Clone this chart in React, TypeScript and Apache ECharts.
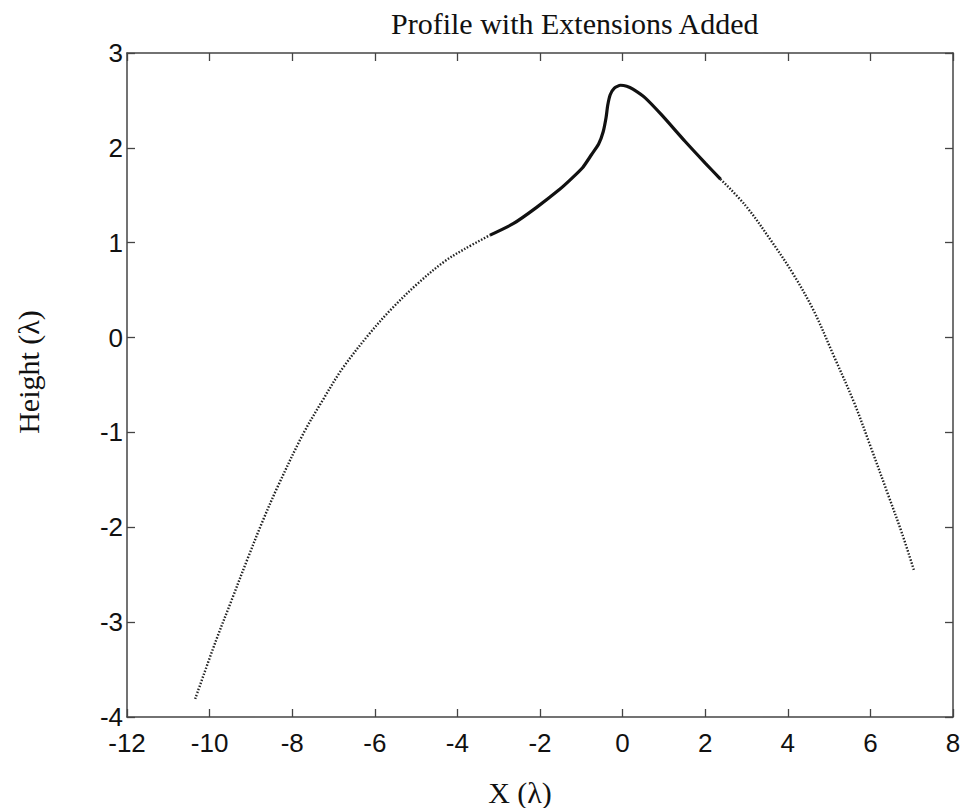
import React, { useEffect, useRef } from "react";
import * as echarts from "echarts";

// Left extension (dotted)
const leftExtX = [-10.35, -9.85, -9.46, -9.07, -8.72, -8.36, -7.74, -7.26, -6.79, -6.15, -5.6, -4.96, -4.32, -3.84, -3.21];
const leftExtY = [-3.81, -3.2, -2.76, -2.32, -1.94, -1.58, -1.02, -0.66, -0.33, 0.03, 0.3, 0.57, 0.8, 0.93, 1.08];

// Measured profile (solid)
const profileX = [-3.21, -2.65, -2.09, -1.53, -1.25, -0.97, -0.75, -0.58, -0.47, -0.4, -0.36, -0.3, -0.2, -0.05, 0.1, 0.25, 0.54, 0.94, 1.51, 2.0, 2.37];
const profileY = [1.08, 1.2, 1.37, 1.56, 1.67, 1.79, 1.93, 2.04, 2.17, 2.32, 2.45, 2.56, 2.63, 2.66, 2.65, 2.62, 2.53, 2.35, 2.07, 1.84, 1.67];

// Right extension (dotted)
const rightExtX = [2.37, 2.98, 3.63, 4.13, 4.62, 5.11, 5.61, 5.98, 6.44, 6.77, 7.06];
const rightExtY = [1.67, 1.39, 1.0, 0.67, 0.29, -0.19, -0.69, -1.12, -1.67, -2.07, -2.46];

const xMin = -12;
const xMax = 8;
const xStep = 2;
const yMin = -4;
const yMax = 3;
const yStep = 1;

const titleText = "Profile with Extensions Added";
const xName = "X (λ)";
const yName = "Height (λ)";

const pairs = (xs: number[], ys: number[]) => xs.map((x, i) => [x, ys[i]]);

export default function App() {
  const ref = useRef<HTMLDivElement>(null);
  useEffect(() => {
    const chart = echarts.init(ref.current!, null, { renderer: "svg" });
    const frame = { show: true, onZero: false, lineStyle: { color: "#444", width: 1.5 } };
    const tick = { show: true, inside: true, length: 8, lineStyle: { color: "#444", width: 1.3 } };
    const tickLabel = {
      fontFamily: "Liberation Sans",
      fontSize: 26,
      color: "#111",
    };
    const dotted = { color: "#222", width: 2.4, type: [1.5, 1.7], cap: "butt" };
    chart.setOption({
      animation: false,
      backgroundColor: "#fff",
      title: {
        text: titleText,
        left: 391,
        top: 8,
        padding: 0,
        textStyle: { fontFamily: "Liberation Serif", fontSize: 30, fontWeight: "normal", color: "#111" },
      },
      grid: { left: 127, top: 53, width: 826, height: 664, containLabel: false },
      xAxis: [
        {
          type: "value", min: xMin, max: xMax, interval: xStep, position: "bottom",
          axisLine: frame, axisTick: tick, splitLine: { show: false },
          axisLabel: { ...tickLabel, margin: 13, showMinLabel: true, showMaxLabel: true },
        },
        {
          type: "value", min: xMin, max: xMax, interval: xStep, position: "top",
          axisLine: frame, axisTick: tick, splitLine: { show: false }, axisLabel: { show: false },
        },
      ],
      yAxis: [
        {
          type: "value", min: yMin, max: yMax, interval: yStep, position: "left",
          axisLine: frame, axisTick: tick, splitLine: { show: false },
          axisLabel: { ...tickLabel, margin: 4, showMinLabel: true, showMaxLabel: true },
        },
        {
          type: "value", min: yMin, max: yMax, interval: yStep, position: "right",
          axisLine: frame, axisTick: tick, splitLine: { show: false }, axisLabel: { show: false },
        },
      ],
      graphic: [
        {
          type: "text", x: 520, y: 792,
          style: { text: xName, font: '30px "Liberation Serif"', textAlign: "center", textVerticalAlign: "middle", fill: "#111" },
        },
        {
          type: "text", x: 28, y: 372, rotation: Math.PI / 2,
          style: { text: yName, font: '30px "Liberation Serif"', textAlign: "center", textVerticalAlign: "middle", fill: "#111" },
        },
      ],
      series: [
        {
          type: "line", name: "left extension", data: pairs(leftExtX, leftExtY), showSymbol: false, smooth: 0.35,
          lineStyle: dotted,
        },
        {
          type: "line", name: "profile", data: pairs(profileX, profileY), showSymbol: false, smooth: 0.2,
          lineStyle: { color: "#111", width: 3.2 },
        },
        {
          type: "line", name: "right extension", data: pairs(rightExtX, rightExtY), showSymbol: false, smooth: 0.35,
          lineStyle: dotted,
        },
      ],
    });
    return () => chart.dispose();
  }, []);
  return <div ref={ref} style={{ position: "fixed", left: 0, top: 0, width: 966, height: 808 }} />;
}
